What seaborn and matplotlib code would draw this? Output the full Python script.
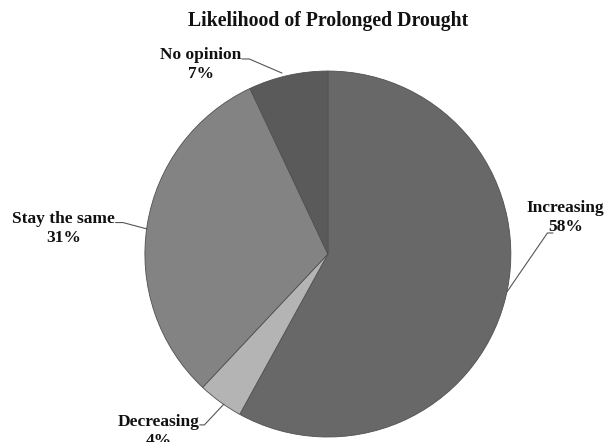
import matplotlib
matplotlib.use("Agg")
import matplotlib.pyplot as plt
import seaborn as sns

categories = ["Increasing", "Decreasing", "Stay the same", "No opinion"]
values = [58, 4, 31, 7]
colors = ["#686868", "#b4b4b4", "#838383", "#5a5a5a"]

sns.set_theme(style="white")
plt.rcParams['font.family'] = ['Liberation Serif', 'DejaVu Serif']

fig = plt.figure(figsize=(6.14, 4.42), dpi=100)
fig.patch.set_facecolor("white")
ax = fig.add_axes([0.236, 0.0113, 0.596, 0.828])
ax.pie(values, colors=colors, startangle=90, counterclock=False,
       wedgeprops=dict(edgecolor="#505050", linewidth=0.6))
ax.set_xlim(-1, 1)
ax.set_ylim(-1, 1)
ax.set_aspect("equal")

labels = [f"{c}\n{v}%" for c, v in zip(categories, values)]
# text position, leader polyline (in pie units)
placements = {
    "Increasing": ((1.30, 0.20), [(1.23, 0.115), (1.20, 0.115), (0.978, -0.208)]),
    "Decreasing": ((-0.923, -0.97), [(-0.70, -0.934), (-0.675, -0.934), (-0.568, -0.82)]),
    "Stay the same": ((-1.443, 0.139), [(-1.16, 0.172), (-1.12, 0.172), (-0.989, 0.137)]),
    "No opinion": ((-0.694, 1.038), [(-0.47, 1.066), (-0.43, 1.066), (-0.251, 0.989)]),
}
for c, lab in zip(categories, labels):
    (tx, ty), pts = placements[c]
    xs = [p[0] for p in pts]
    ys = [p[1] for p in pts]
    ax.plot(xs, ys, color="#555555", lw=0.8, clip_on=False)
    ax.text(tx, ty, lab, ha="center", va="center", fontsize=12.5,
            fontweight="bold", color="#111111", linespacing=1.25, clip_on=False)

fig.text(0.534, 0.953, "Likelihood of Prolonged Drought", ha="center", va="center",
         fontsize=14.2, fontweight="bold", color="#111111")

fig.savefig("out.png", dpi=100, facecolor="white")
